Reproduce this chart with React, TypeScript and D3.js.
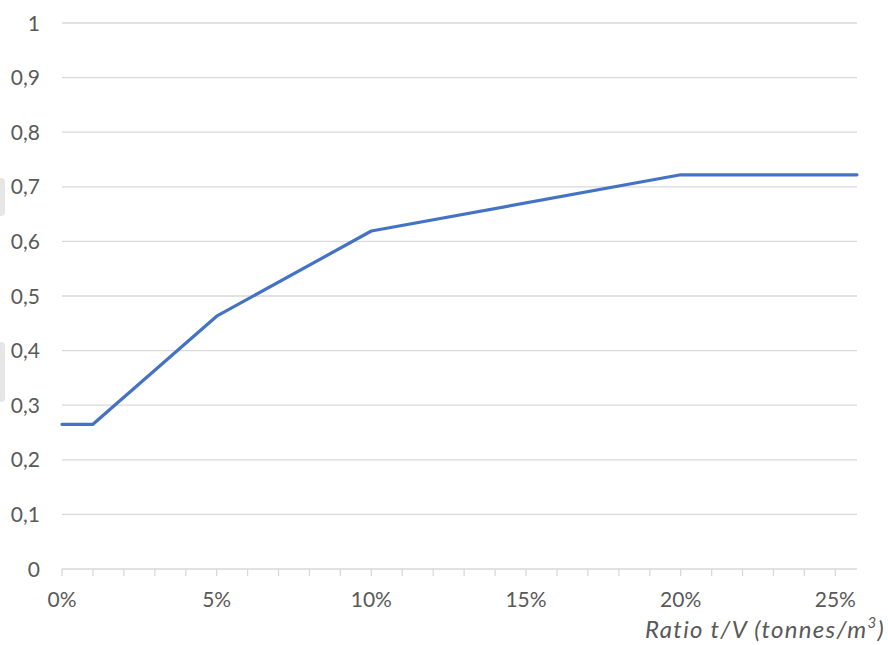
import React from "react";
import * as d3 from "d3";

const xValues = [0, 0.01, 0.05, 0.1, 0.2, 0.257];
const yValues = [0.265, 0.265, 0.463, 0.619, 0.722, 0.722];
const yTicks = [0, 0.1, 0.2, 0.3, 0.4, 0.5, 0.6, 0.7, 0.8, 0.9, 1];
const xLabelTicks = [0, 0.05, 0.1, 0.15, 0.2, 0.25];
const xMinorTicks = d3.range(0, 26).map((d) => d / 100);
const axisTitle = "Ratio t/V (tonnes/m";

export default function App() {
  const W = 888, H = 645;
  const x = d3.scaleLinear().domain([0, 0.257]).range([62, 857]);
  const y = d3.scaleLinear().domain([0, 1]).range([569, 23]);
  const pts = xValues.map((v, i) => [v, yValues[i]] as [number, number]);
  const line = d3.line<[number, number]>().x((d) => x(d[0])).y((d) => y(d[1]));
  const font = "Lato, Open Sans, sans-serif";
  const fmtY = (v: number) => (v === 0 ? "0" : v === 1 ? "1" : d3.format(".1f")(v).replace(".", ","));
  return (
    <svg width={W} height={H} style={{ position: "absolute", left: 0, top: 0, background: "#fff" }} fontFamily={font}>
      <rect x={-4} y={178} width={9} height={38} rx={4} fill="#e6e6e6" />
      <rect x={-4} y={342} width={9} height={60} rx={4} fill="#e6e6e6" />
      {yTicks.map((t) => (
        <g key={t}>
          {t > 0 && <line x1={62} x2={857} y1={y(t)} y2={y(t)} stroke="#d9d9d9" strokeWidth={1.3} />}
          <text x={40} y={y(t)} dy="0.36em" textAnchor="end" fontSize={21} fill="#595959">{fmtY(t)}</text>
        </g>
      ))}
      <line x1={62} x2={857} y1={y(0)} y2={y(0)} stroke="#d9d9d9" strokeWidth={1.3} />
      {xMinorTicks.map((t) => (
        <line key={t} x1={x(t)} x2={x(t)} y1={y(0)} y2={y(0) + 7} stroke="#d9d9d9" strokeWidth={1.3} />
      ))}
      {xLabelTicks.map((t) => (
        <text key={t} x={x(t)} y={607} textAnchor="middle" fontSize={21} fill="#595959">{Math.round(t * 100) + "%"}</text>
      ))}
      <path d={line(pts) || ""} fill="none" stroke="#4472C4" strokeWidth={3.2} strokeLinejoin="round" strokeLinecap="round" />
      <text x={885} y={638} textAnchor="end" fontSize={24} fontStyle="italic" letterSpacing={1.3} fill="#595959">
        {axisTitle}
        <tspan fontSize={15} dy={-10}>3</tspan>
        <tspan dy={10}>)</tspan>
      </text>
    </svg>
  );
}
